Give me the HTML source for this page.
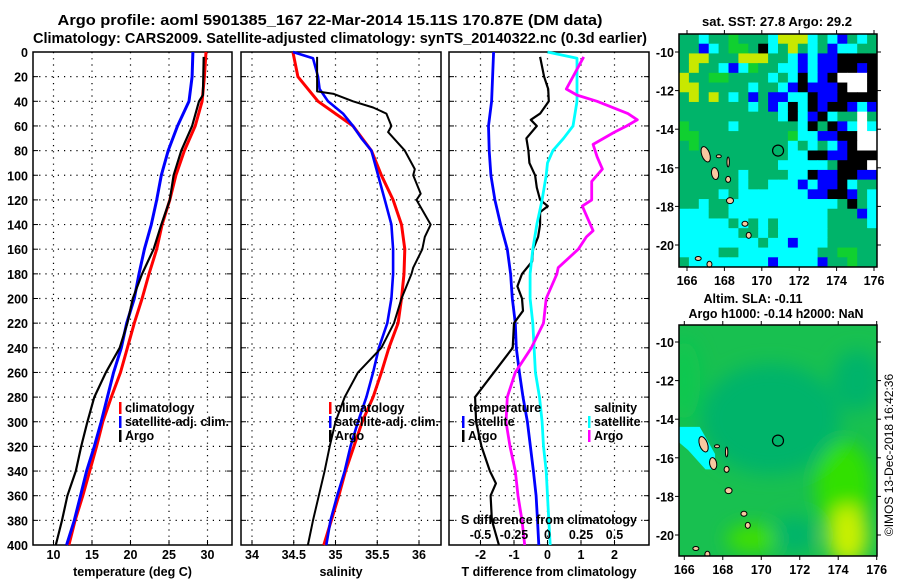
<!DOCTYPE html>
<html><head><meta charset="utf-8">
<style>
html,body{margin:0;padding:0;background:#fff;}
svg{display:block;font-family:"Liberation Sans",sans-serif;font-weight:bold;}
</style></head>
<body>
<svg id="fig" width="900" height="580" viewBox="0 0 900 580" xmlns="http://www.w3.org/2000/svg">
<text x="330" y="25" font-size="14.5" text-anchor="middle" textLength="545" lengthAdjust="spacingAndGlyphs">Argo profile: aoml 5901385_167 22-Mar-2014 15.11S 170.87E (DM data)</text>
<text x="340" y="43" font-size="14.5" text-anchor="middle" textLength="614" lengthAdjust="spacingAndGlyphs">Climatology: CARS2009. Satellite-adjusted climatology: synTS_20140322.nc (0.3d earlier)</text>
<g id="panels"></g>
<g id="maps"></g>
<text transform="translate(893,455) rotate(-90)" font-size="12" font-weight="normal" text-anchor="middle">©IMOS 13-Dec-2018 16:42:36</text>
</svg>
<script>
// ---------- data ----------
const depthTicks = [0,20,40,60,80,100,120,140,160,180,200,220,240,260,280,300,320,340,360,380,400];
const tempTicks = [10,15,20,25,30];
const salTicks = [34,34.5,35,35.5,36];
const tdiffTicks = [-2,-1,0,1,2];
const sdiffTicks = [-0.5,-0.25,0,0.25,0.5];

const stdDepth = [0,20,40,60,80,100,120,140,160,180,200,220,240,260,280,300,320,340,360,380,400];
const tempClim = [29.8,29.6,29.3,28.4,27.0,25.9,25.1,24.1,23.4,22.4,21.5,20.5,19.6,18.7,17.5,16.4,15.6,14.7,13.8,12.8,12.0];
const tempSat  = [28.1,28.0,27.6,26.1,24.9,24.0,23.4,22.7,21.8,21.1,20.5,19.5,18.8,17.8,17.0,16.2,15.3,14.3,13.5,12.7,11.7];
const argoDepthT = [4,35,40,60,80,100,120,140,160,180,200,220,240,260,280,300,320,340,360,380,400];
const tempArgo = [29.5,29.4,28.9,28.0,26.6,25.6,25.1,24.0,23.0,21.5,20.3,19.6,18.6,16.8,15.3,14.4,13.6,12.9,11.8,11.1,10.3];

const salClim = [34.49,34.55,34.79,35.21,35.43,35.55,35.69,35.79,35.83,35.82,35.79,35.75,35.64,35.55,35.45,35.32,35.22,35.12,35.04,34.95,34.86];
const satDepthS = [0,5,20,30,40,50,60,70,80,100,120,140,160,180,200,220,240,260,280,300,320,340,360,380,400];
const salSat = [34.49,34.73,34.79,34.81,34.91,35.09,35.21,35.31,35.43,35.51,35.59,35.67,35.69,35.69,35.67,35.62,35.52,35.45,35.37,35.27,35.18,35.11,35.02,34.94,34.89];
const argoDepthS = [4,32,34,40,45,50,60,65,80,95,100,115,120,140,150,160,175,180,200,220,240,260,280,300,320,340,360,380,400];
const salArgo = [34.78,34.78,34.98,35.21,35.45,35.61,35.67,35.63,35.83,35.95,35.93,36.02,35.97,36.14,36.07,36.04,35.93,35.91,35.79,35.70,35.55,35.27,35.11,35.00,34.93,34.87,34.80,34.73,34.67];

const tdSatDepth = [0,20,40,60,80,100,120,140,160,180,200,220,240,260,280,300,320,340,360,380,400];
const tdiffSat = [-1.61,-1.64,-1.67,-1.76,-1.74,-1.69,-1.57,-1.40,-1.20,-1.10,-1.05,-0.96,-0.93,-0.84,-0.73,-0.60,-0.51,-0.42,-0.34,-0.30,-0.26];
const tdArgoDepth = [4,20,30,40,50,55,60,70,80,90,100,110,120,125,130,140,150,160,170,180,190,200,210,220,240,260,280,300,320,340,350,360,380,400];
const tdiffArgo = [-0.22,-0.10,0.02,0.04,-0.22,-0.50,-0.32,-0.63,-0.57,-0.54,-0.37,-0.32,-0.22,0.01,-0.22,-0.22,-0.28,-0.43,-0.46,-0.76,-0.90,-0.76,-0.73,-1.00,-1.04,-1.60,-2.16,-2.13,-1.97,-1.72,-1.54,-1.70,-1.66,-1.45];
const sdSatDepth = [0,5,20,40,60,70,80,90,100,120,140,160,180,200,220,240,260,280,300,320,340,360,380,400];
const sdiffSat = [0.00,0.22,0.22,0.22,0.19,0.12,0.04,0.00,-0.01,-0.04,-0.08,-0.11,-0.13,-0.13,-0.11,-0.10,-0.09,-0.06,-0.04,-0.03,-0.01,0.00,0.01,0.02];
const sdArgoDepth = [4,20,30,35,40,50,55,60,65,75,85,95,105,120,125,135,145,150,160,175,180,200,220,240,260,280,300,320,340,360,380,400];
const sdiffArgo = [0.27,0.19,0.14,0.22,0.37,0.60,0.67,0.59,0.50,0.34,0.37,0.41,0.33,0.33,0.26,0.30,0.34,0.29,0.23,0.08,0.07,-0.01,-0.03,-0.12,-0.24,-0.30,-0.31,-0.28,-0.24,-0.22,-0.19,-0.17];

// SST map grid (rows top->bottom), G green, L bright green, Y yellow, C cyan, B blue, K black, W white
const sstGrid = [
"GGCGGLGGGCYYYCGCBGCG",
"GGBCGLLGKCGYGCGBCCGG",
"GYYGGGYYYGGCBCBBKKKK",
"GYGGCBCLGGCCBCBBKKBK",
"YGGLLGGGGCGCKCBKWWWK",
"YYGGGGGCGGCBKBBBKWWK",
"GYGYGCGBGBBCCKBBKKKK",
"GGGGGGGCGBCKCKBKKBCB",
"GGGGGGGGGGCKCBKCGGWG",
"LGGGGCGGGGGGCKGKBCWC",
"LLGGGGGGGGGLCCBBKKWW",
"GLGGGGGGGGGCGCGCBKWW",
"GGGGGGGGGGGCCKKBBKKK",
"GGGGGGGGGGCCCCCGKKKW",
"GGGGGGCGGGGCCKBBKKBB",
"GGGGGGCGGCCCBCBBKCGG",
"GGGGCGCCCCCCCBBKKBGC",
"GGCGGCCCCCCCCCCCGKGC",
"CCCGGCCCCCCCCCCGGGBC",
"CCCCCGCGCGCCCCCGGGGC",
"CCCCCCGGCGCCCCCGGGGG",
"CCCCCCCCGCCBCCCGGGGG",
"CCCCGGCCCCCCCCGGLLGG",
"GCCCCCCCCBCCCCBGGLGG"];
const mapLonTicks = [166,168,170,172,174,176];
const mapLatTicks = [-10,-12,-14,-16,-18,-20];
const argoLon = 170.87, argoLat = -15.11;

// ---------- helpers ----------
const NS = "http://www.w3.org/2000/svg";
function mk(tag, attrs, parent){const e=document.createElementNS(NS,tag);for(const k in attrs)e.setAttribute(k,attrs[k]);parent.appendChild(e);return e;}
const yTop=52, yBot=545;
function yD(d){return yTop+(yBot-yTop)*d/400;}
function lin(d0,d1,p0,p1){return v=>p0+(v-d0)*(p1-p0)/(d1-d0);}

const panelsG=document.getElementById('panels');
function panel(name,x0,x1,xs,ticks,labels,title){
  const g=mk('g',{},panelsG);
  
  
  depthTicks.forEach(d=>{ if(d>0&&d<400){const l=mk('line',{x1:x0,x2:x1,y1:yD(d),y2:yD(d),stroke:'#000','stroke-width':1.2,'stroke-dasharray':'1.2 5'},g);}
    mk('line',{x1:x0,x2:x0+5,y1:yD(d),y2:yD(d),stroke:'#000','stroke-width':1},g);
    mk('line',{x1:x1-5,x2:x1,y1:yD(d),y2:yD(d),stroke:'#000','stroke-width':1},g);});
  ticks.forEach((t,i)=>{const x=xs(t);
    const l=mk('line',{x1:x,x2:x,y1:yTop,y2:yBot,stroke:'#000','stroke-width':1.2,'stroke-dasharray':'1.2 5'},g);
    
    mk('line',{x1:x,x2:x,y1:yBot-5,y2:yBot,stroke:'#000'},g);
    const tx=mk('text',{x:x,y:559,'font-size':12.5,'text-anchor':'middle'},g);tx.textContent=labels[i];
    });
  const r=mk('rect',{x:x0,y:yTop,width:x1-x0,height:yBot-yTop,fill:'none',stroke:'#000','stroke-width':1.5},g);
  
  const t=mk('text',{x:(x0+x1)/2,y:576,'font-size':12.5,'text-anchor':'middle'},g);t.textContent=title;
  
  return g;
}
function series(g,name,vals,depths,xs,color,w){
  const pts=vals.map((v,i)=>xs(v).toFixed(1)+','+yD(depths[i]).toFixed(1)).join(' ');
  const p=mk('polyline',{points:pts,fill:'none',stroke:color,'stroke-width':w,'stroke-linejoin':'round'},g);
  
  
}
function legend(g,x,y,color,label,name,len){
  mk('rect',{x:x,y:y-10,width:2.5,height:12,fill:color},g);
  const a={x:x+6,y:y,'font-size':12.5};
  if(len){a.textLength=len;a.lengthAdjust='spacingAndGlyphs';}
  const t=mk('text',a,g);t.textContent=label;
  
}

// y tick labels
depthTicks.forEach(d=>{const t=mk('text',{x:28,y:yD(d)+5,'font-size':12.5,'text-anchor':'end'},panelsG);t.textContent=d;
  });

// Panel 1 temperature
const xT=lin(10,30,53.5,207.5);
const g1=panel('temperature-panel',33,232,xT,tempTicks,tempTicks.map(String),'temperature (deg C)');
series(g1,'temperature-climatology-line',tempClim,stdDepth,xT,'#f00',3);
series(g1,'temperature-satellite-line',tempSat,stdDepth,xT,'#00f',3);
series(g1,'temperature-argo-line',tempArgo,argoDepthT,xT,'#000',2.2);
legend(g1,119,412,'#f00','climatology','legend-climatology');
legend(g1,119,426,'#00f','satellite-adj. clim.','legend-satellite',104);
legend(g1,119,440,'#000','Argo','legend-argo');

// Panel 2 salinity
const xS=lin(34,36,252,419);
const g2=panel('salinity-panel',241,441,xS,salTicks,['34','34.5','35','35.5','36'],'salinity');
series(g2,'salinity-climatology-line',salClim,stdDepth,xS,'#f00',3);
series(g2,'salinity-satellite-line',salSat,satDepthS,xS,'#00f',2.6);
series(g2,'salinity-argo-line',salArgo,argoDepthS,xS,'#000',2);
legend(g2,329,412,'#f00','climatology','legend-climatology');
legend(g2,329,426,'#00f','satellite-adj. clim.','legend-satellite',104);
legend(g2,329,440,'#000','Argo','legend-argo');

// Panel 3 differences
const xTd=lin(-2,2,480.5,614.5);
const xSd=lin(-0.5,0.5,480.5,614.5);
const g3=panel('difference-panel',449,649,xTd,tdiffTicks,['-2','-1','0','1','2'],'T difference from climatology');
series(g3,'tdiff-satellite-line',tdiffSat,tdSatDepth,xTd,'#00f',2.8);
series(g3,'tdiff-argo-line',tdiffArgo,tdArgoDepth,xTd,'#000',2.2);
series(g3,'sdiff-satellite-line',sdiffSat,sdSatDepth,xSd,'#0ff',2.8);
series(g3,'sdiff-argo-line',sdiffArgo,sdArgoDepth,xSd,'#f0f',2.8);
{const t=mk('text',{x:469,y:412,'font-size':12.5},g3);t.textContent='temperature';}
{const t=mk('text',{x:594,y:412,'font-size':12.5},g3);t.textContent='salinity';}
legend(g3,462,426,'#00f','satellite','legend-t-satellite');
legend(g3,462,440,'#000','Argo','legend-t-argo');
legend(g3,588,426,'#0ff','satellite','legend-s-satellite');
legend(g3,588,440,'#f0f','Argo','legend-s-argo');
{const t=mk('text',{x:549,y:524,'font-size':12.5,'text-anchor':'middle',textLength:176,lengthAdjust:'spacingAndGlyphs'},g3);t.textContent='S difference from climatology';}
sdiffTicks.forEach(v=>{const t=mk('text',{x:xSd(v),y:539,'font-size':12.5,'text-anchor':'middle'},g3);t.textContent=String(v);
  });

// ---------- maps ----------
const mapsG=document.getElementById('maps');
const colors={G:'#00b46a',L:'#10d030',Y:'#c8e800',C:'#00ffff',B:'#0000ff',K:'#000',W:'#fff'};
function mapAxes(g,x0,y0,x1,y1,lonX,latY,labY){
  mapLonTicks.forEach(v=>{const x=lonX(v);mk('line',{x1:x,x2:x,y1:y1,y2:y1+4,stroke:'#000'},g);mk('line',{x1:x,x2:x,y1:y0-4,y2:y0,stroke:'#000'},g);
    const t=mk('text',{x:x,y:labY,'font-size':12.5,'text-anchor':'middle'},g);t.textContent=v;});
  mapLatTicks.forEach(v=>{const y=latY(v);mk('line',{x1:x0-4,x2:x0,y1:y,y2:y,stroke:'#000'},g);mk('line',{x1:x1,x2:x1+4,y1:y,y2:y,stroke:'#000'},g);
    const t=mk('text',{x:x0-5,y:y+5,'font-size':12.5,'text-anchor':'end'},g);t.textContent=v;});
  const r=mk('rect',{x:x0,y:y0,width:x1-x0,height:y1-y0,fill:'none',stroke:'#000','stroke-width':1.5},g);
  
}
const islands=[[167.0,-15.3,4,8,-20],[167.5,-16.3,3.5,6,-10],[168.3,-17.7,3.5,3,0],[169.1,-18.9,3,2.5,0],[169.3,-19.5,2.5,3,0],[168.2,-16.6,2.5,3,0],[168.2,-15.7,1.2,5,0],[167.7,-15.4,2.5,1.5,0],[166.6,-20.7,3,2,0],[167.2,-21.0,2.5,3,0]];
function drawIslands(g,lonX,latY){
  islands.forEach(s=>{const e=mk('ellipse',{cx:lonX(s[0]),cy:latY(s[1]),rx:s[2],ry:s[3],fill:'#f8c8a0',stroke:'#000','stroke-width':1,transform:`rotate(${s[4]} ${lonX(s[0])} ${latY(s[1])})`},g);
    });
}

// Map 1 SST
{
 const g=mk('g',{},mapsG);
 const x0=679,x1=877,y0=34,y1=267;
 const lonX=lin(166,176,687,874), latY=lin(-10,-20,52,245);
 const cw=(x1-x0)/sstGrid[0].length, ch=(y1-y0)/sstGrid.length;
 sstGrid.forEach((row,r)=>{[...row].forEach((c,ci)=>{const cell=mk('rect',{x:x0+ci*cw,y:y0+r*ch,width:cw+0.5,height:ch+0.5,fill:colors[c]},g);
   });});
 drawIslands(g,lonX,latY);
 const c=mk('circle',{cx:lonX(argoLon),cy:latY(argoLat),r:5.5,fill:'none',stroke:'#000','stroke-width':1.2},g);
 
 mapAxes(g,x0,y0,x1,y1,lonX,latY,285);
 const t=mk('text',{x:777,y:26,'font-size':13,'text-anchor':'middle',textLength:150,lengthAdjust:'spacingAndGlyphs'},g);t.textContent='sat. SST: 27.8 Argo: 29.2';
}
// Map 2 SLA
{
 const g=mk('g',{},mapsG);
 const x0=679,x1=877,y0=325,y1=556;
 const lonX=lin(166,176,684.3,876.7), latY=lin(-10,-20,342,535);
 const defs=mk('defs',{},g);
 const f=mk('filter',{id:'blur',x:'-50%',y:'-50%',width:'200%',height:'200%'},defs);mk('feGaussianBlur',{stdDeviation:9},f);
 const cp=mk('clipPath',{id:'clip2'},defs);mk('rect',{x:x0,y:y0,width:x1-x0,height:y1-y0},cp);
 const inner=mk('g',{'clip-path':'url(#clip2)'},g);
 mk('rect',{x:x0,y:y0,width:x1-x0,height:y1-y0,fill:'#18c050'},inner);
 const bl=mk('g',{filter:'url(#blur)'},inner);
 mk('ellipse',{cx:lonX(170.5),cy:latY(-14),rx:70,ry:55,fill:'#00b46a'},bl);
 mk('ellipse',{cx:lonX(175),cy:latY(-12),rx:25,ry:30,fill:'#00b46a'},bl);
 mk('ellipse',{cx:lonX(171.7),cy:latY(-20),rx:22,ry:18,fill:'#00b46a'},bl);
 mk('ellipse',{cx:lonX(174.3),cy:latY(-17.5),rx:28,ry:45,fill:'#30e000'},bl);
 mk('ellipse',{cx:lonX(174.5),cy:latY(-20),rx:20,ry:30,fill:'#c8f000'},bl);
 mk('ellipse',{cx:lonX(169.5),cy:latY(-20.2),rx:25,ry:14,fill:'#40e000'},bl);
 mk('ellipse',{cx:lonX(166),cy:latY(-12),rx:16,ry:40,fill:'#10c850'},bl);
 const cy=mk('polygon',{points:`${x0},${latY(-14.4)} ${lonX(166.8)},${latY(-14.4)} ${lonX(167.6)},${latY(-15.8)} ${lonX(167.6)},${latY(-16.6)} ${lonX(167.1)},${latY(-16.6)} ${lonX(166.2)},${latY(-15.6)} ${x0},${latY(-15.2)}`,fill:'#00ffff'},inner);
 
 drawIslands(inner,lonX,latY);
 const c=mk('circle',{cx:lonX(argoLon),cy:latY(argoLat),r:5.5,fill:'none',stroke:'#000','stroke-width':1.2},g);
 
 mapAxes(g,x0,y0,x1,y1,lonX,latY,574);
 const t1=mk('text',{x:753,y:303,'font-size':13,'text-anchor':'middle',textLength:99,lengthAdjust:'spacingAndGlyphs'},g);t1.textContent='Altim. SLA: -0.11';
 const t2=mk('text',{x:776,y:318,'font-size':13,'text-anchor':'middle',textLength:175,lengthAdjust:'spacingAndGlyphs'},g);t2.textContent='Argo h1000: -0.14 h2000: NaN';
}
</script>
</body></html>
